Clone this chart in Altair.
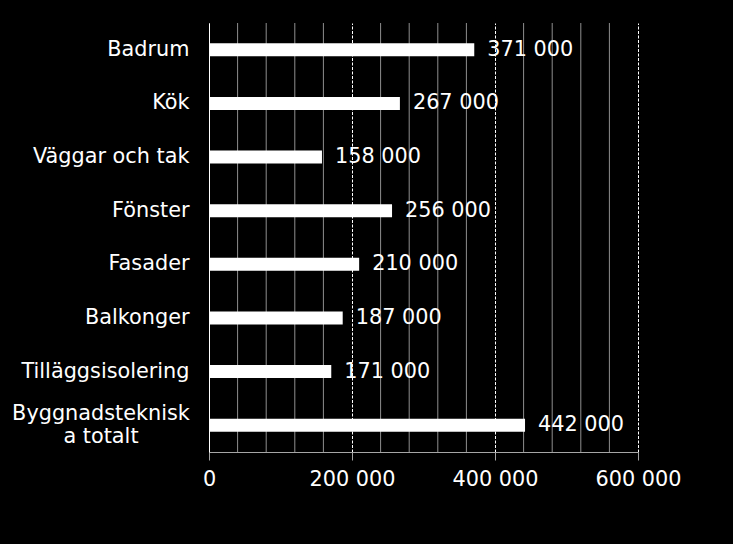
import altair as alt
import pandas as pd
import jinja2

categories = ["Badrum", "Kök", "Väggar och tak", "Fönster", "Fasader",
              "Balkonger", "Tilläggsisolering", "Byggnadsteknisk a totalt"]
values = [371000, 267000, 158000, 256000, 210000, 187000, 171000, 442000]
major_ticks = [0, 200000, 400000, 600000]
minor_grid = [40000, 80000, 120000, 160000, 240000, 280000, 320000, 360000,
              440000, 480000, 520000, 560000]
wrapped_label = "Byggnadsteknisk\na totalt"

df = pd.DataFrame({"cat": categories, "value": values})
minor_df = pd.DataFrame({"v": minor_grid})
wrap_df = pd.DataFrame({"cat": [categories[-1]], "label": [wrapped_label]})

FONT = "DejaVu Sans"
FS = 20.8

y_enc = alt.Y("cat:N", sort=categories, title=None,
              scale=alt.Scale(paddingInner=0.1, paddingOuter=0.05),
              axis=alt.Axis(labelFont=FONT, labelFontSize=FS, labelColor="white",
                            labelPadding=20, ticks=False, domainColor="white",
                            domainWidth=1, grid=False, labelLimit=300,
                            labelExpr="datum.value == 'Byggnadsteknisk a totalt' ? '' : datum.label"))

x_scale = alt.Scale(domain=[0, 600000], nice=False)

minor = alt.Chart(minor_df).mark_rule(color="#8f8f8f", strokeWidth=1).encode(
    x=alt.X("v:Q", scale=x_scale)
)

bars = alt.Chart(df).mark_bar(color="white", size=13).encode(
    x=alt.X("value:Q", scale=x_scale, title=None,
            axis=alt.Axis(values=major_ticks, labelFont=FONT, labelFontSize=FS,
                          labelColor="white", labelPadding=9, tickSize=8,
                          labelFlush=False,
                          tickColor="#a6a6a6", domainColor="#a6a6a6",
                          grid=True, gridColor="white", gridDash=[3, 1.5],
                          gridWidth=1,
                          labelExpr="datum.value == 0 ? '0' : format(datum.value / 1000, 'd') + ' 000'")),
    y=y_enc,
)

labels = alt.Chart(df).transform_calculate(
    txt="format(datum.value / 1000, 'd') + ' 000'"
).mark_text(align="left", baseline="middle", dx=13, color="white",
            font=FONT, fontSize=FS).encode(
    x=alt.X("value:Q", scale=x_scale),
    y=alt.Y("cat:N", sort=categories),
    text="txt:N",
)

wrap = alt.Chart(wrap_df).mark_text(align="center", baseline="middle",
                                    lineBreak="\n", lineHeight=23, dy=-11,
                                    color="white",
                                    font=FONT, fontSize=FS).encode(
    x=alt.value(-108),
    y=alt.Y("cat:N", sort=categories),
    text="label:N",
)

chart = alt.layer(minor, bars, labels, wrap).properties(
    width=429, height=429,
    background="black",
    padding={"left": 201, "top": 15, "right": 87, "bottom": 84},
    autosize=alt.AutoSizeParams(type="none"),
).configure_view(stroke=None)

TEMPLATE = jinja2.Template("""<!DOCTYPE html>
<html>
<head>
  <style>html, body { background: black; }</style>
  <script type="text/javascript" src="{{ base_url }}/vega@{{ vega_version }}"></script>
  <script type="text/javascript" src="{{ base_url }}/vega-lite@{{ vegalite_version }}"></script>
  <script type="text/javascript" src="{{ base_url }}/vega-embed@{{ vegaembed_version }}"></script>
</head>
<body>
  <div id="{{ output_div }}"></div>
  <script type="text/javascript">
    vegaEmbed("#{{ output_div }}", {{ spec }}, {{ embed_options }});
  </script>
</body>
</html>
""")

try:
    chart.save("out.html", embed_options={"renderer": "svg", "actions": False},
               template=TEMPLATE)
except Exception:
    chart.save("out.html", embed_options={"renderer": "svg", "actions": False})
